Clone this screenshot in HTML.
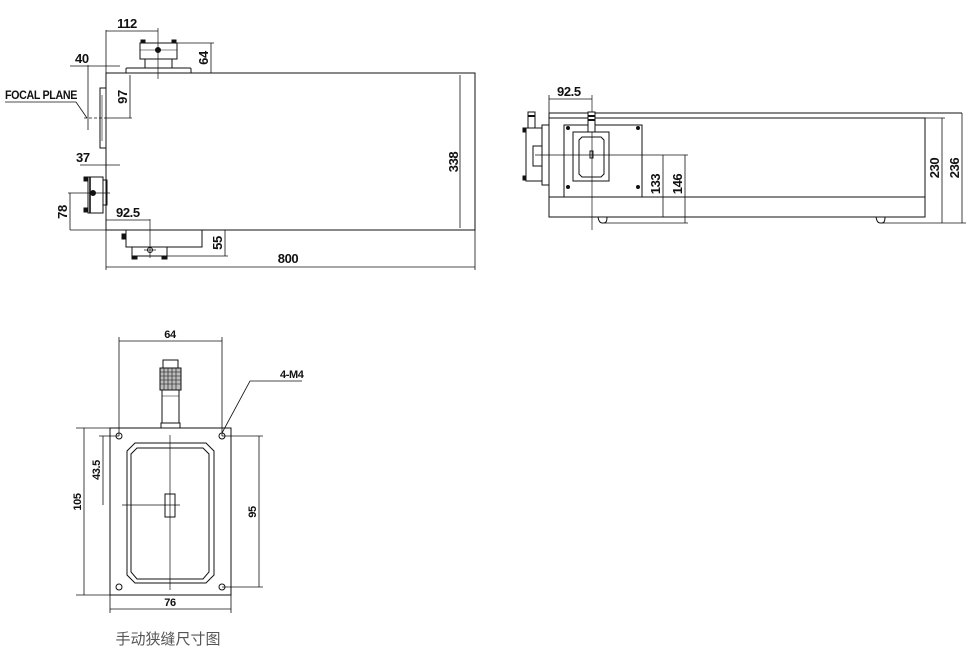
<!DOCTYPE html>
<html><head><meta charset="utf-8"><style>
html,body{margin:0;padding:0;background:#fff;}
svg{display:block}
text{font-family:"Liberation Sans Narrow","Liberation Sans",sans-serif;font-weight:bold;fill:#111;letter-spacing:-0.4px;}
</style></head><body>
<svg width="971" height="652" viewBox="0 0 971 652" xmlns="http://www.w3.org/2000/svg" stroke="#111" fill="none" stroke-width="1">
<!-- ===== VIEW 1 ===== -->
<rect x="106" y="73" width="369" height="157"/>
<line x1="106" y1="30" x2="106" y2="270" stroke-width="0.8"/>
<line x1="475" y1="73" x2="475" y2="270" stroke-width="0.8"/>
<line x1="460" y1="75" x2="460" y2="228" stroke-width="0.8"/>
<text x="0" y="0" font-size="13" transform="translate(458,162) rotate(-90)" text-anchor="middle" stroke="none">338</text>
<line x1="106" y1="267" x2="475" y2="267" stroke-width="0.8"/>
<text x="288" y="263" font-size="13" text-anchor="middle" stroke="none">800</text>
<path d="M126 73 V69 Q126 68 127 68 H190 Q191 68 191 69 V73"/>
<rect x="145" y="59" width="27" height="9"/>
<rect x="140" y="43" width="37" height="16"/>
<line x1="140" y1="50" x2="177" y2="50" stroke-width="0.6"/>
<rect x="141" y="40" width="4" height="3" fill="#111"/>
<rect x="172" y="40" width="4" height="3" fill="#111"/>
<circle cx="158" cy="50" r="2.5" fill="#111"/>
<line x1="158" y1="28" x2="158" y2="79" stroke-width="0.7"/>
<line x1="106" y1="31" x2="158" y2="31" stroke-width="0.8"/>
<text x="127" y="28" font-size="13" text-anchor="middle" stroke="none">112</text>
<line x1="177" y1="43" x2="214" y2="43" stroke-width="0.8"/>
<line x1="211" y1="43" x2="211" y2="73" stroke-width="0.8"/>
<line x1="191" y1="73" x2="214" y2="73" stroke-width="0.8"/>
<text font-size="13" transform="translate(208,58) rotate(-90)" text-anchor="middle" stroke="none">64</text>
<rect x="100" y="88" width="6" height="60"/>
<line x1="102" y1="95" x2="102" y2="141" stroke-width="0.6"/>
<line x1="88" y1="65" x2="88" y2="130" stroke-width="0.8"/>
<line x1="84" y1="118" x2="106" y2="118" stroke-width="0.7" stroke-dasharray="3,2"/>
<line x1="70" y1="66" x2="120" y2="66" stroke-width="0.8"/>
<text x="75" y="63" font-size="13" stroke="none">40</text>
<text x="5" y="99" font-size="12" textLength="72" lengthAdjust="spacingAndGlyphs" stroke="none">FOCAL PLANE</text>
<line x1="5" y1="102" x2="76" y2="102" stroke-width="0.8"/>
<line x1="76" y1="102" x2="87" y2="118" stroke-width="0.8"/>
<line x1="130" y1="75" x2="130" y2="118" stroke-width="0.8"/>
<line x1="106" y1="118" x2="132" y2="118" stroke-width="0.8"/>
<text font-size="13" transform="translate(127,97) rotate(-90)" text-anchor="middle" stroke="none">97</text>
<rect x="88" y="177" width="15" height="36"/>
<rect x="103" y="180" width="4" height="25"/>
<line x1="90" y1="177" x2="90" y2="213" stroke-width="1.6"/>
<rect x="84" y="177" width="4" height="4" fill="#111"/>
<rect x="84" y="208" width="4" height="4" fill="#111"/>
<circle cx="93" cy="193" r="2.5" fill="#111"/>
<line x1="68" y1="193" x2="110" y2="193" stroke-width="0.7"/>
<line x1="80" y1="165" x2="120" y2="165" stroke-width="0.8"/>
<text x="76" y="162" font-size="13" stroke="none">37</text>
<line x1="70" y1="193" x2="70" y2="230" stroke-width="0.8"/>
<line x1="70" y1="230" x2="106" y2="230" stroke-width="0.8"/>
<text font-size="13" transform="translate(67,212) rotate(-90)" text-anchor="middle" stroke="none">78</text>
<rect x="126" y="230" width="76" height="17"/>
<rect x="132" y="247" width="35" height="9"/>
<rect x="122" y="234" width="4" height="5" fill="#111"/>
<rect x="132" y="256" width="5" height="3" fill="#111"/>
<rect x="162" y="256" width="5" height="3" fill="#111"/>
<circle cx="150" cy="250" r="2.5" fill="#fff"/>
<line x1="150" y1="219" x2="150" y2="258" stroke-width="0.7"/>
<line x1="144" y1="250" x2="156" y2="250" stroke-width="0.7"/>
<line x1="106" y1="220" x2="150" y2="220" stroke-width="0.8"/>
<text x="116" y="217" font-size="13" stroke="none">92.5</text>
<line x1="225" y1="230" x2="225" y2="256" stroke-width="0.8"/>
<line x1="167" y1="256" x2="228" y2="256" stroke-width="0.8"/>
<text font-size="13" transform="translate(222,243) rotate(-90)" text-anchor="middle" stroke="none">55</text>

<!-- ===== VIEW 2 ===== -->
<line x1="549" y1="113" x2="962" y2="113"/>
<rect x="549" y="118" width="376" height="99"/>
<line x1="549" y1="113" x2="549" y2="118"/>
<line x1="549" y1="197" x2="925" y2="197"/>
<rect x="564" y="125" width="78" height="72"/>
<circle cx="568" cy="128" r="1.5" fill="#111"/><circle cx="638" cy="128" r="1.5" fill="#111"/>
<circle cx="568" cy="187" r="1.5" fill="#111"/><circle cx="638" cy="187" r="1.5" fill="#111"/>
<rect x="573" y="132" width="36" height="49"/>
<path d="M582 137 H601 L604 140 V174 L601 177 H582 L579 174 V140 Z"/>
<rect x="590" y="151" width="3" height="7"/>
<line x1="592" y1="95" x2="592" y2="230" stroke-width="0.7"/>
<line x1="535" y1="155" x2="688" y2="155" stroke-width="0.7"/>
<rect x="588" y="112" width="7" height="20" fill="#fff"/>
<line x1="588" y1="116" x2="595" y2="116" stroke-width="2"/>
<line x1="588" y1="120" x2="595" y2="120" stroke-width="2"/>
<rect x="526" y="128" width="16" height="53"/>
<rect x="542" y="125" width="7" height="60"/>
<rect x="533" y="146" width="9" height="20"/>
<rect x="523" y="128" width="3" height="4" fill="#111"/>
<rect x="523" y="176" width="3" height="4" fill="#111"/>
<rect x="528" y="112" width="7" height="16"/>
<line x1="528" y1="116" x2="535" y2="116" stroke-width="2"/>
<path d="M598 217 Q599 223 602 223 H604 Q607 223 607 217"/>
<path d="M876 217 Q877 223 880 223 H882 Q885 223 885 217"/>
<line x1="549" y1="95" x2="549" y2="113" stroke-width="0.8"/>
<line x1="549" y1="99" x2="592" y2="99" stroke-width="0.8"/>
<text x="557" y="96" font-size="13" stroke="none">92.5</text>
<line x1="663" y1="155" x2="663" y2="217" stroke-width="0.8"/>
<text font-size="13" transform="translate(660,184) rotate(-90)" text-anchor="middle" stroke="none">133</text>
<line x1="685" y1="155" x2="685" y2="223" stroke-width="0.8"/>
<line x1="604" y1="223" x2="688" y2="223" stroke-width="0.8"/>
<text font-size="13" transform="translate(682,184) rotate(-90)" text-anchor="middle" stroke="none">146</text>
<line x1="925" y1="118" x2="945" y2="118" stroke-width="0.8"/>
<line x1="942" y1="118" x2="942" y2="223" stroke-width="0.8"/>
<line x1="962" y1="113" x2="962" y2="223" stroke-width="0.8"/>
<line x1="880" y1="223" x2="966" y2="223" stroke-width="0.8"/>
<text font-size="13" transform="translate(939,168) rotate(-90)" text-anchor="middle" stroke="none">230</text>
<text font-size="13" transform="translate(959,168) rotate(-90)" text-anchor="middle" stroke="none">236</text>

<!-- ===== VIEW 3 ===== -->
<rect x="110" y="428" width="121" height="167"/>
<path d="M135 443 H206 L214 451 V575 L206 583 H135 L127 575 V451 Z"/>
<path d="M137 448 H203 L209 454 V572 L203 579 H137 L131 572 V454 Z"/>
<circle cx="119" cy="436" r="3"/><circle cx="222" cy="436" r="3"/>
<circle cx="119" cy="587" r="3"/><circle cx="222" cy="587" r="3"/>
<rect x="165" y="494" width="10" height="23"/>
<line x1="170" y1="435" x2="170" y2="590" stroke-width="0.7"/>
<line x1="122" y1="505" x2="180" y2="505" stroke-width="0.7"/>
<rect x="163" y="360" width="15" height="8"/>
<rect x="160" y="368" width="21" height="22" fill="#bbb"/>
<g stroke-width="0.6">
<line x1="160" y1="372" x2="181" y2="372"/><line x1="160" y1="376" x2="181" y2="376"/>
<line x1="160" y1="380" x2="181" y2="380"/><line x1="160" y1="384" x2="181" y2="384"/>
<line x1="164" y1="368" x2="164" y2="390"/><line x1="168" y1="368" x2="168" y2="390"/>
<line x1="172" y1="368" x2="172" y2="390"/><line x1="176" y1="368" x2="176" y2="390"/>
</g>
<rect x="162" y="390" width="17" height="33"/>
<line x1="162" y1="396" x2="179" y2="396" stroke-width="0.6"/>
<rect x="161" y="423" width="19" height="5"/>
<line x1="119" y1="337" x2="119" y2="436" stroke-width="0.8"/>
<line x1="222" y1="337" x2="222" y2="436" stroke-width="0.8"/>
<line x1="119" y1="341" x2="222" y2="341" stroke-width="0.8"/>
<text x="170" y="338" font-size="11" text-anchor="middle" stroke="none">64</text>
<polyline points="222,433 250,381 302,381" stroke-width="0.8"/>
<text x="280" y="378" font-size="11" stroke="none">4-M4</text>
<line x1="76" y1="428" x2="110" y2="428" stroke-width="0.8"/>
<line x1="76" y1="595" x2="110" y2="595" stroke-width="0.8"/>
<line x1="84" y1="428" x2="84" y2="595" stroke-width="0.8"/>
<text font-size="11" transform="translate(81,502) rotate(-90)" text-anchor="middle" stroke="none">105</text>
<line x1="99" y1="436" x2="119" y2="436" stroke-width="0.8"/>
<line x1="103" y1="436" x2="103" y2="505" stroke-width="0.8"/>
<text font-size="11" transform="translate(100,470) rotate(-90)" text-anchor="middle" stroke="none">43.5</text>
<line x1="222" y1="436" x2="263" y2="436" stroke-width="0.8"/>
<line x1="222" y1="587" x2="263" y2="587" stroke-width="0.8"/>
<line x1="259" y1="436" x2="259" y2="587" stroke-width="0.8"/>
<text font-size="11" transform="translate(256,512) rotate(-90)" text-anchor="middle" stroke="none">95</text>
<line x1="110" y1="595" x2="110" y2="613" stroke-width="0.8"/>
<line x1="231" y1="595" x2="231" y2="613" stroke-width="0.8"/>
<line x1="110" y1="609" x2="231" y2="609" stroke-width="0.8"/>
<text x="170" y="606" font-size="11" text-anchor="middle" stroke="none">76</text>
<text x="168" y="644" font-size="15" text-anchor="middle" stroke="none" style="font-family:'Liberation Sans','Noto Sans CJK SC',sans-serif;font-weight:normal;fill:#555;letter-spacing:0">手动狭缝尺寸图</text>
</svg>
</body></html>
